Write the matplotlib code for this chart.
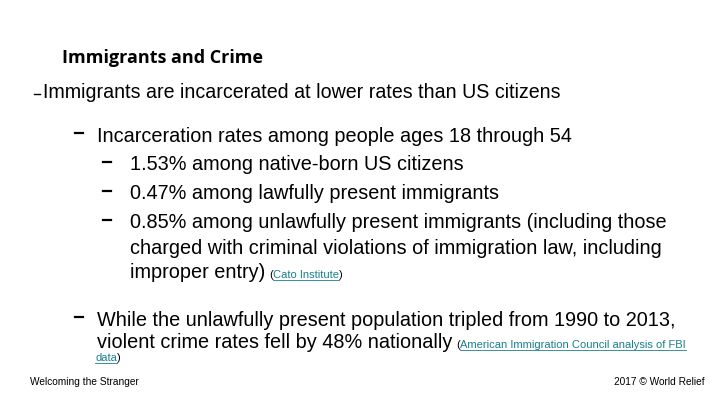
import matplotlib
matplotlib.use("Agg")
import matplotlib.pyplot as plt

title = "Immigrants and Crime"
main_point = "Immigrants are incarcerated at lower rates than US citizens"
bullet1 = "Incarceration rates among people ages 18 through 54"
sub_bullets = ["1.53% among native-born US citizens",
               "0.47% among lawfully present immigrants",
               "0.85% among unlawfully present immigrants (including those"]
sub_cont = ["charged with criminal violations of immigration law, including",
            "improper entry)"]
link1 = "Cato Institute"
bullet2 = "While the unlawfully present population tripled from 1990 to 2013,"
bullet2_cont = "violent crime rates fell by 48% nationally"
link2 = "American Immigration Council analysis of FBI"
link2_cont = "data"
footer_left = "Welcoming the Stranger"
footer_right = "2017 © World Relief"

W, H = 720, 405
fig = plt.figure(figsize=(7.2, 4.05), dpi=100)
fig.patch.set_facecolor("white")
F = "Liberation Sans"
TEAL = "#1a7f8c"
FS = 14.3
LS = 8
r = fig.canvas.get_renderer()

def T(x, y, s, size, **kw):
    kw.setdefault("family", F)
    return fig.text(x / W, 1 - y / H, s, fontsize=size, va="center", color="#000000", **kw)

def after(t, y, s, size, prefix="(", suffix=")"):
    bb = t.get_window_extent(r)
    cur = bb.x1 + 4
    for part, col in ((prefix, "black"), (s, TEAL), (suffix, "black")):
        if not part:
            continue
        tt = fig.text(cur / W, 1 - y / H, part, fontsize=size, va="center", color=col, family=F)
        b = tt.get_window_extent(r)
        if col == TEAL:
            fig.add_artist(plt.Line2D([b.x0 / W, b.x1 / W], [(H - y - 5) / H] * 2, color=TEAL, lw=0.6))
        cur = b.x1

def dash(x, y):
    fig.add_artist(plt.Line2D([x / W, (x + 8) / W], [(H - y) / H] * 2, color="black", lw=1.6))

T(62, 58, title, 13, family="Open Sans", weight="bold")
fig.add_artist(plt.Line2D([34 / W, 40 / W], [(H - 94) / H] * 2, color="black", lw=1.0))
T(43, 93, main_point, 14.1)
dash(75, 133)
T(97, 136, bullet1, FS)
for i, s in enumerate(sub_bullets):
    y = 165 + i * 29
    dash(103, y - 3)
    T(130, y, s, FS)
T(130, 249, sub_cont[0], FS)
t = T(130, 273, sub_cont[1], FS)
after(t, 275, link1, LS)
dash(75, 317)
T(97, 320, bullet2, FS)
t = T(97, 343, bullet2_cont, FS)
after(t, 345, link2, LS, suffix="")
tl = fig.text(95 / W, 1 - 358 / H, link2_cont, fontsize=LS, va="center", color=TEAL, family=F)
b = tl.get_window_extent(r)
fig.add_artist(plt.Line2D([b.x0 / W, b.x1 / W], [(H - 363) / H] * 2, color=TEAL, lw=0.6))
fig.text(b.x1 / W, 1 - 358 / H, ")", fontsize=LS, va="center", family=F)
T(30, 382, footer_left, 7.3)
fig.text(705 / W, 1 - 382 / H, footer_right, fontsize=7.3, va="center", ha="right", family=F)
fig.savefig("out.png", dpi=100)
